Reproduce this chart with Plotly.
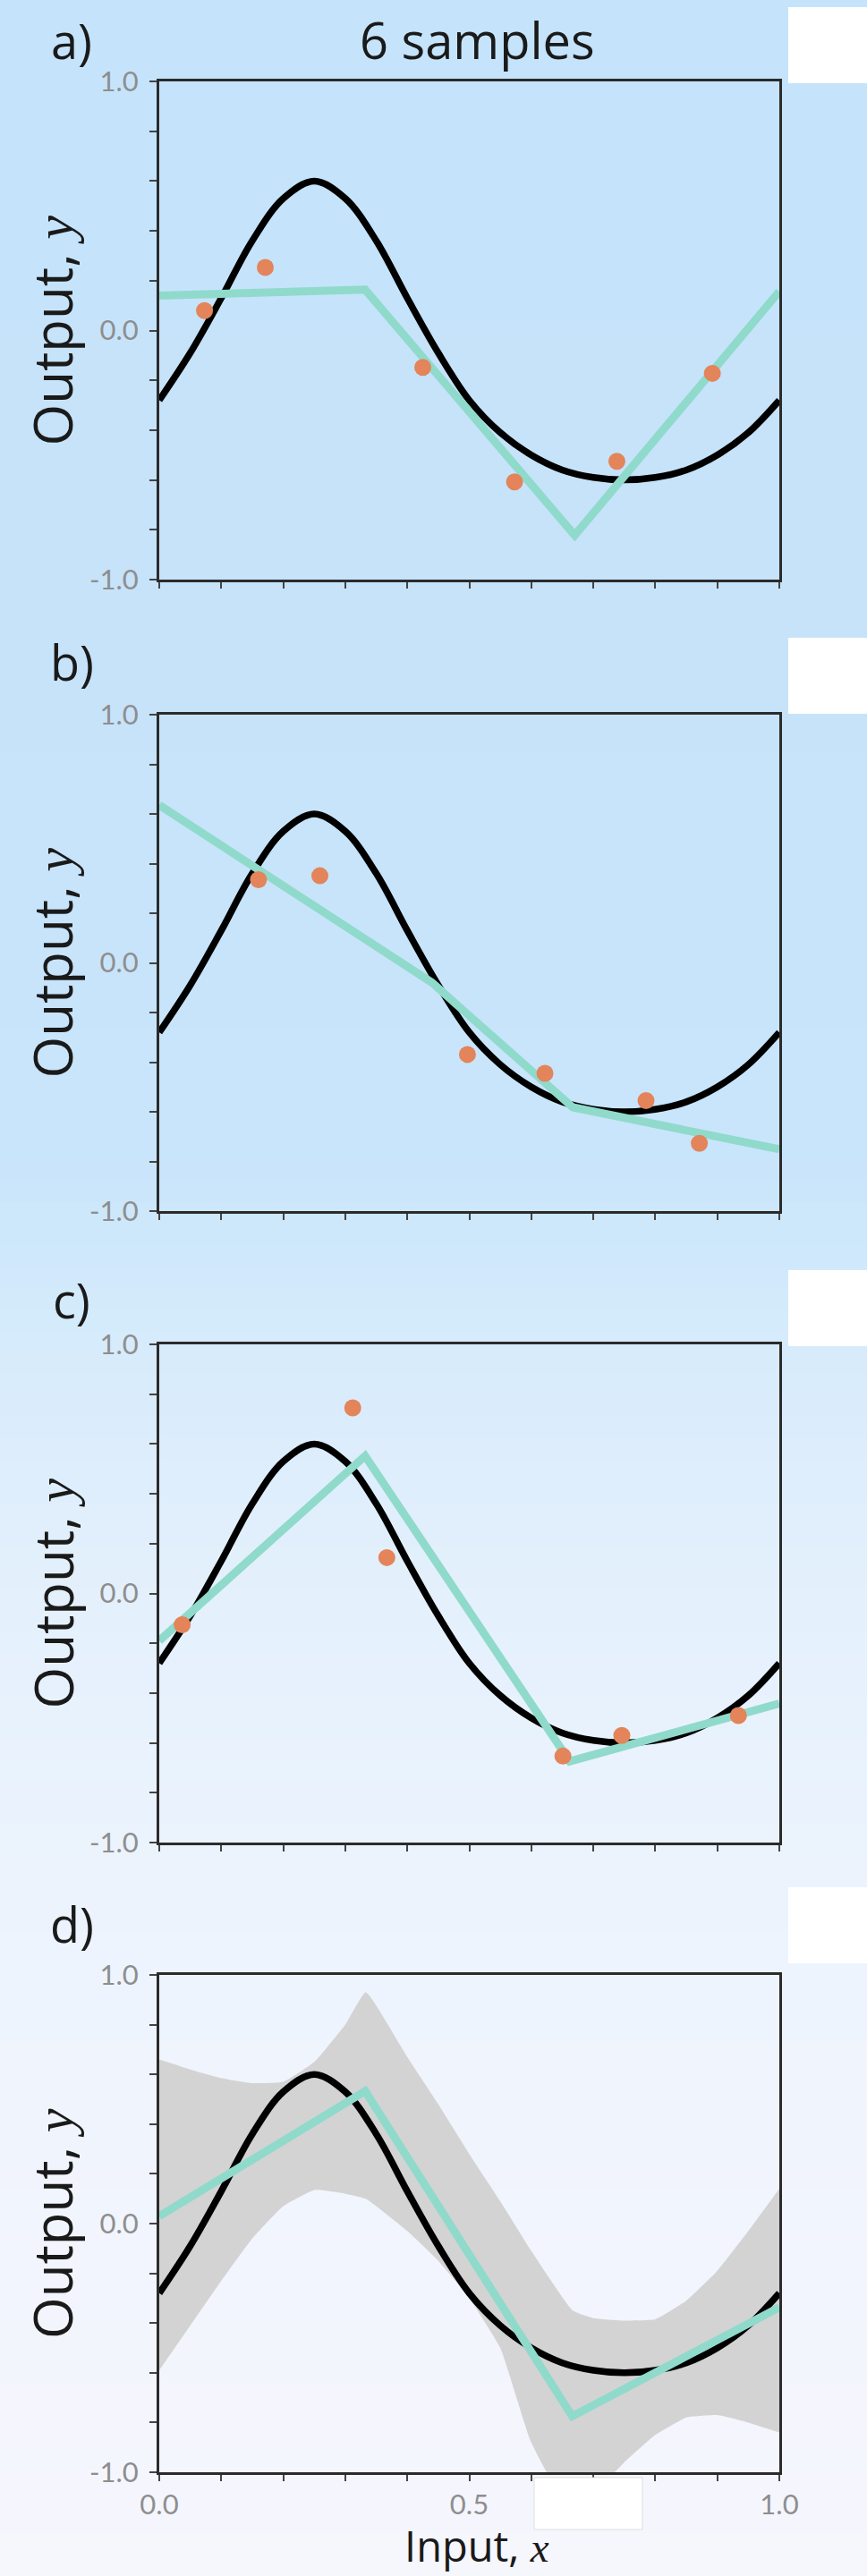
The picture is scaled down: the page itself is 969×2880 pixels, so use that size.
import plotly.graph_objects as go

W, H = 969, 2880

# ---------------- data ----------------
true_x = [0.00, 0.05, 0.10, 0.15, 0.20, 0.25, 0.30, 0.35, 0.40, 0.45, 0.50,
          0.55, 0.60, 0.65, 0.70, 0.75, 0.80, 0.85, 0.90, 0.95, 1.00]
true_y = [-0.28, -0.09, 0.13, 0.36, 0.53, 0.60, 0.53, 0.36, 0.13, -0.09, -0.28,
          -0.41, -0.50, -0.56, -0.59, -0.60, -0.59, -0.56, -0.50, -0.41, -0.28]

a_x = [0.073, 0.171, 0.425, 0.573, 0.738, 0.892]
a_y = [0.080, 0.253, -0.148, -0.608, -0.525, -0.172]
b_x = [0.160, 0.259, 0.497, 0.622, 0.785, 0.871]
b_y = [0.335, 0.351, -0.369, -0.445, -0.555, -0.727]
c_x = [0.037, 0.312, 0.367, 0.651, 0.746, 0.934]
c_y = [-0.126, 0.745, 0.144, -0.653, -0.570, -0.490]

a_fit_x = [0.0, 0.332, 0.670, 1.0]
a_fit_y = [0.140, 0.164, -0.822, 0.157]
b_fit_x = [0.0, 0.440, 0.667, 1.0]
b_fit_y = [0.636, -0.080, -0.582, -0.751]
c_fit_x = [0.0, 0.332, 0.662, 1.0]
c_fit_y = [-0.190, 0.552, -0.674, -0.442]
d_fit_x = [0.0, 0.332, 0.666, 1.0]
d_fit_y = [0.030, 0.533, -0.775, -0.337]

band_x = [0.00, 0.05, 0.10, 0.15, 0.20, 0.25, 0.30, 0.333, 0.40, 0.45, 0.50,
          0.55, 0.60, 0.667, 0.70, 0.75, 0.80, 0.85, 0.90, 0.95, 1.00]
band_upper = [0.66, 0.62, 0.585, 0.565, 0.57, 0.65, 0.80, 0.93, 0.67, 0.48, 0.28,
              0.09, -0.11, -0.35, -0.38, -0.39, -0.385, -0.31, -0.19, -0.03, 0.14]
band_lower = [-0.59, -0.41, -0.23, -0.06, 0.07, 0.135, 0.12, 0.10, -0.03, -0.15, -0.30,
              -0.50, -0.88, -1.17, -1.09, -0.96, -0.85, -0.78, -0.77, -0.80, -0.84]

panel_labels = ["a)", "b)", "c)", "d)"]
title_text = "6 samples"
y_tickvals = [-1.0, -0.8, -0.6, -0.4, -0.2, 0.0, 0.2, 0.4, 0.6, 0.8, 1.0]
y_ticktext = ["-1.0", "", "", "", "", "0.0", "", "", "", "", "1.0"]
x_tickvals = [0.0, 0.1, 0.2, 0.3, 0.4, 0.5, 0.6, 0.7, 0.8, 0.9, 1.0]
x_ticktext = ["0.0", "", "", "", "", "0.5", "", "", "", "", "1.0"]

# ---------------- layout geometry (pixels) ----------------
PX_L, PX_R = 178, 871
panel_px = [(91, 648), (799, 1354), (1503, 2060), (2208, 2764)]
label_cy = [45, 740, 1453, 2151]

BLACK = "#000000"
TEAL = "#90DACB"
ORANGE = "#E3845A"
BAND = "#D3D3D3"
TICKGRAY = "#8E8E8E"
FONT = "Open Sans"
TICKFONT = "Lato"

def px_x(p):
    return p / W

def px_y(p):
    return 1 - p / H

fig = go.Figure()

fits = [(a_fit_x, a_fit_y), (b_fit_x, b_fit_y), (c_fit_x, c_fit_y), (d_fit_x, d_fit_y)]
samples = [(a_x, a_y), (b_x, b_y), (c_x, c_y), None]

for i in range(4):
    n = "" if i == 0 else str(i + 1)
    xr, yr = "x" + n, "y" + n
    if i == 3:
        fig.add_trace(go.Scatter(x=band_x, y=band_upper, mode="lines",
                                 line=dict(width=0, color=BAND, shape="spline", smoothing=0.4),
                                 xaxis=xr, yaxis=yr, showlegend=False, hoverinfo="skip"))
        fig.add_trace(go.Scatter(x=band_x, y=band_lower, mode="lines",
                                 line=dict(width=0, color=BAND, shape="spline", smoothing=0.4),
                                 fill="tonexty", fillcolor=BAND,
                                 xaxis=xr, yaxis=yr, showlegend=False, hoverinfo="skip"))
    fig.add_trace(go.Scatter(x=true_x, y=true_y, mode="lines",
                             line=dict(color=BLACK, width=7.5, shape="spline", smoothing=1.0),
                             xaxis=xr, yaxis=yr, showlegend=False))
    fx, fy = fits[i]
    fig.add_trace(go.Scatter(x=fx, y=fy, mode="lines", line=dict(color=TEAL, width=9),
                             xaxis=xr, yaxis=yr, showlegend=False))
    if samples[i] is not None:
        sx, sy = samples[i]
        fig.add_trace(go.Scatter(x=sx, y=sy, mode="markers",
                                 marker=dict(color=ORANGE, size=19, line=dict(width=0)),
                                 xaxis=xr, yaxis=yr, showlegend=False))

layout = dict(width=W, height=H, autosize=False,
              margin=dict(l=0, r=0, t=0, b=0, pad=0, autoexpand=False),
              paper_bgcolor="#c6e4fa", plot_bgcolor="rgba(0,0,0,0)", showlegend=False)

tickfont = dict(family=TICKFONT, size=31, color=TICKGRAY)
for i in range(4):
    n = "" if i == 0 else str(i + 1)
    top, bot = panel_px[i]
    layout["xaxis" + n] = dict(domain=[px_x(PX_L), px_x(PX_R)], range=[0, 1], anchor="y" + n,
                               automargin=False,
                               showgrid=False, zeroline=False, showline=True, mirror=True,
                               linecolor="#2b2b2b", linewidth=3, ticks="outside", ticklen=7,
                               tickwidth=2, tickcolor="#444444", tickvals=x_tickvals,
                               ticktext=x_ticktext if i == 3 else [""] * len(x_tickvals),
                               tickfont=tickfont, ticklabelstandoff=0)
    layout["yaxis" + n] = dict(domain=[px_y(bot), px_y(top)], range=[-1, 1], anchor="x" + n,
                               automargin=False,
                               showgrid=False, zeroline=False, showline=True, mirror=True,
                               linecolor="#2b2b2b", linewidth=3, ticks="outside", ticklen=8,
                               tickwidth=2, tickcolor="#444444", tickvals=y_tickvals,
                               ticktext=y_ticktext, tickfont=tickfont, ticklabelstandoff=6)

# background gradient (vertical)
stops = [(0, (197, 228, 251)), (700, (198, 227, 250)), (1300, (201, 229, 251)),
         (1450, (211, 234, 251)), (1700, (225, 239, 252)), (2000, (234, 243, 253)),
         (2300, (239, 244, 253)), (2880, (246, 246, 253))]

def grad(p):
    for (p0, c0), (p1, c1) in zip(stops[:-1], stops[1:]):
        if p0 <= p <= p1:
            t = (p - p0) / (p1 - p0)
            return "rgb(%d,%d,%d)" % tuple(round(a + (b - a) * t) for a, b in zip(c0, c1))
    return "rgb(%d,%d,%d)" % stops[-1][1]

shapes = []
step = 24
for p in range(0, H, step):
    shapes.append(dict(type="rect", xref="paper", yref="paper", x0=0, x1=1,
                       y0=px_y(min(p + step + 1, H)), y1=px_y(p), fillcolor=grad(p + step / 2),
                       line=dict(width=0), layer="below"))
# white boxes at right
white_boxes = [(8, 93), (713, 798), (1420, 1505), (2110, 2195)]
for (t, b) in white_boxes:
    shapes.append(dict(type="rect", xref="paper", yref="paper", x0=px_x(881), x1=1,
                       y0=px_y(b), y1=px_y(t), fillcolor="white", line=dict(width=0), layer="below"))
shapes.append(dict(type="rect", xref="paper", yref="paper", x0=px_x(597), x1=px_x(718),
                   y0=px_y(2828), y1=px_y(2770), fillcolor="white",
                   line=dict(width=1, color="#DDDDDD"), layer="above"))
layout["shapes"] = shapes

ann = []
for i in range(4):
    top, bot = panel_px[i]
    ann.append(dict(text=panel_labels[i], xref="paper", yref="paper", x=px_x(80), y=px_y(label_cy[i]),
                    xanchor="center", yanchor="middle", showarrow=False,
                    font=dict(family=FONT, size=54, color="#1a1a1a")))
    ann.append(dict(text="Output, <span style='font-family:Liberation Serif'><i>y</i></span>",
                    xref="paper", yref="paper", x=px_x(58), y=px_y((top + bot) / 2),
                    xanchor="center", yanchor="middle", textangle=-90, showarrow=False,
                    font=dict(family=FONT, size=60, color="#1a1a1a")))
ann.append(dict(text=title_text, xref="paper", yref="paper", x=px_x(533), y=px_y(44),
                xanchor="center", yanchor="middle", showarrow=False,
                font=dict(family=FONT, size=56, color="#1a1a1a")))
ann.append(dict(text="Input, <span style='font-family:Liberation Serif'><i>x</i></span>",
                xref="paper", yref="paper", x=px_x(533), y=px_y(2879),
                xanchor="center", yanchor="bottom", showarrow=False, borderpad=0,
                font=dict(family=FONT, size=47, color="#1a1a1a")))
layout["annotations"] = ann

fig.update_layout(**layout)
fig.write_html("out.html")
